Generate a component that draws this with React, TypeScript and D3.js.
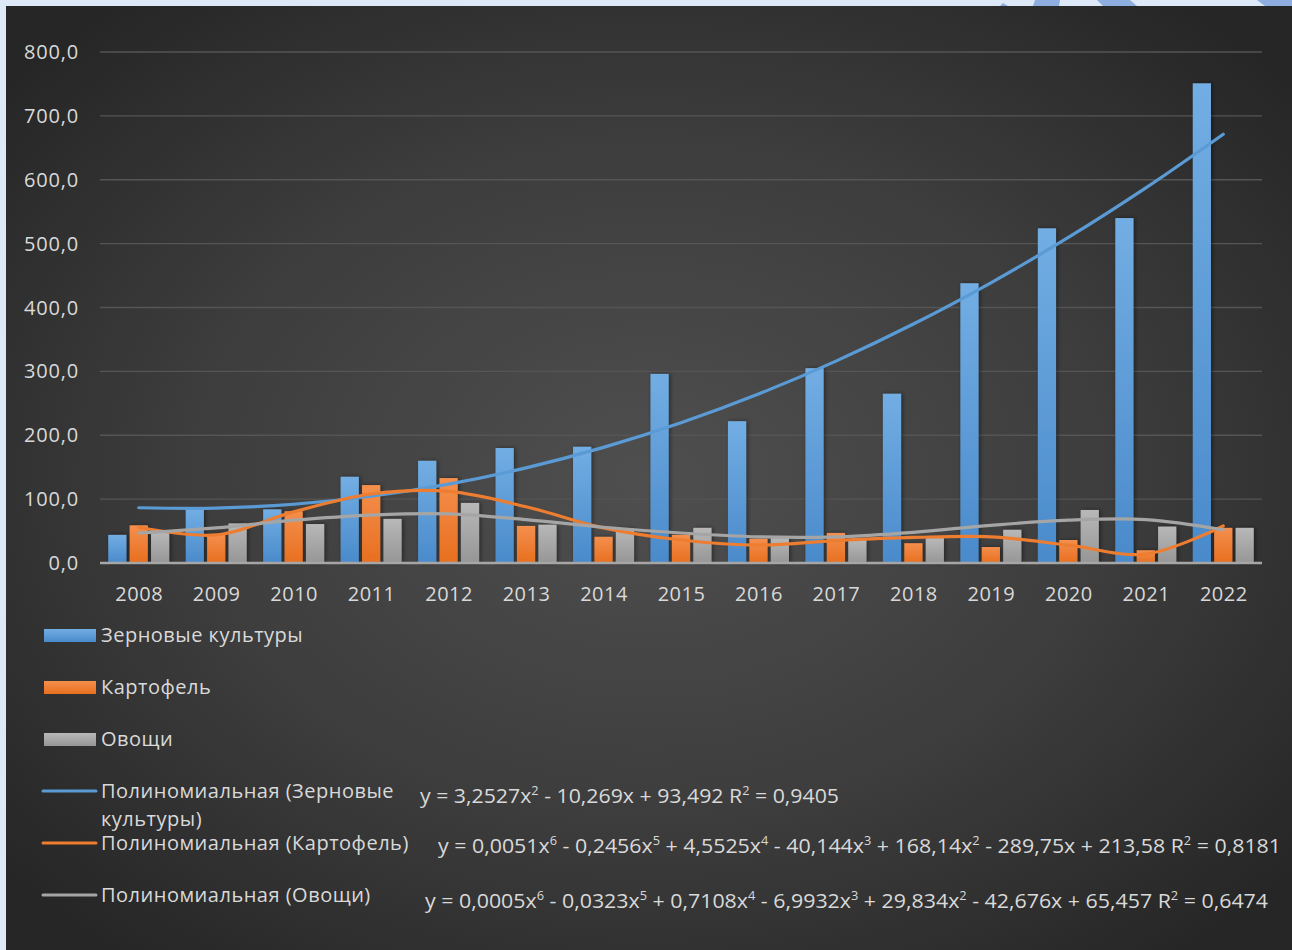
import React from "react";
import * as d3 from "d3";

const years = ["2008","2009","2010","2011","2012","2013","2014","2015","2016","2017","2018","2019","2020","2021","2022"];
const grain = [44, 85, 84, 135, 160, 180, 182, 296, 222, 305, 265, 438, 524, 540, 751];
const potato = [59, 45, 81, 122, 133, 58, 41, 44, 38, 47, 31, 25, 36, 20, 55];
const vegetables = [48, 62, 61, 69, 94, 60, 54, 55, 39, 36, 39, 52, 83, 57, 55];
const grainTrend = [86.5, 86.0, 92.0, 104.5, 123.5, 149.0, 181.0, 219.5, 264.5, 316.1, 374.1, 438.7, 509.7, 587.3, 671.3];
const potatoTrend = [56, 44, 80, 108, 112, 88, 55, 36, 28, 35, 40, 41, 28, 14, 58];
const vegTrend = [47, 55, 67, 75, 77, 68, 56, 47, 41, 41, 48, 59, 67, 68, 52];
const yTicks = [0, 100, 200, 300, 400, 500, 600, 700, 800];

const seriesNames = ["Зерновые культуры", "Картофель", "Овощи"];
const trendNames = ["Полиномиальная (Зерновые", "Полиномиальная (Картофель)", "Полиномиальная (Овощи)"];
const equations = [
  [["y = 3,2527x", ""], ["2", "sup"], [" - 10,269x + 93,492 R", ""], ["2", "sup"], [" = 0,9405", ""]],
  [["y = 0,0051x", ""], ["6", "sup"], [" - 0,2456x", ""], ["5", "sup"], [" + 4,5525x", ""], ["4", "sup"], [" - 40,144x", ""], ["3", "sup"], [" + 168,14x", ""], ["2", "sup"], [" - 289,75x + 213,58 R", ""], ["2", "sup"], [" = 0,8181", ""]],
  [["y = 0,0005x", ""], ["6", "sup"], [" - 0,0323x", ""], ["5", "sup"], [" + 0,7108x", ""], ["4", "sup"], [" - 6,9932x", ""], ["3", "sup"], [" + 29,834x", ""], ["2", "sup"], [" - 42,676x + 65,457 R", ""], ["2", "sup"], [" = 0,6474", ""]],
];

const W = 1292, H = 950;
const colors = ["#5b9bd5", "#ed7d31", "#a5a5a5"];
const lightColors = ["#72aee3", "#f48f4d", "#b8b8b8"];
const darkColors = ["#4a8acb", "#e86f1f", "#969696"];
const FONT = "'Open Sans', 'Noto Sans', sans-serif";

export default function App() {
  const x = d3.scaleBand<string>().domain(years).range([100, 1262]);
  const xs = d3.scaleBand<string>().domain(["0", "1", "2"]).range([0, 61]).paddingInner(0.15);
  const y = d3.scaleLinear().domain([0, 800]).range([563, 52]);
  const data = [grain, potato, vegetables];
  const trends = [grainTrend, potatoTrend, vegTrend];
  const offset = (x.bandwidth() - 61) / 2;
  const line = d3.line<number>()
    .x((_, i) => (x(years[i]) as number) + x.bandwidth() / 2)
    .y((d) => y(d))
    .curve(d3.curveCatmullRom.alpha(0.5));
  const fmt = (v: number) => d3.format(".1f")(v).replace(".", ",");

  const eqPos = [
    { x: 420, y: 803, w: 419 },
    { x: 438, y: 853, w: 843 },
    { x: 425, y: 908, w: 843 },
  ];

  return (
    <svg width={W} height={H} style={{ position: "absolute", left: 0, top: 0 }} fontFamily={FONT}>
      <defs>
        <radialGradient id="bg" cx="0.5" cy="0.5" r="0.65" fx="0.5" fy="0.5">
          <stop offset="0" stopColor="#4f4f4f" />
          <stop offset="0.55" stopColor="#3d3d3d" />
          <stop offset="1" stopColor="#262626" />
        </radialGradient>
        {colors.map((c, i) => (
          <linearGradient key={i} id={`bar${i}`} x1="0" y1="0" x2="0" y2="1">
            <stop offset="0" stopColor={lightColors[i]} />
            <stop offset="1" stopColor={darkColors[i]} />
          </linearGradient>
        ))}
        <filter id="shadow" x="-30%" y="-10%" width="160%" height="130%">
          <feDropShadow dx="1.5" dy="0" stdDeviation="2" floodColor="#000" floodOpacity="0.45" />
        </filter>
      </defs>
      <rect x={0} y={0} width={W} height={H} fill="#dde9f6" />
      <polygon points="1000,6 1003,3 1008,6" fill="#8eaee0" />
      <polygon points="1035,0 1060,0 1059,6 1033,6" fill="#8eaee0" />
      <polygon points="1097,0 1130,0 1137,6 1103,6" fill="#8eaee0" />
      <polygon points="1257,0 1292,0 1292,6 1265,6" fill="#8eaee0" />
      <rect x={6} y={6} width={W - 6} height={H - 6} fill="url(#bg)" />

      {yTicks.map((t) => (
        <g key={t}>
          {t > 0 && <line x1={100} x2={1262} y1={y(t)} y2={y(t)} stroke="#555555" strokeWidth={1.3} />}
          <text x={79} y={y(t) + 7} textAnchor="end" fontSize={20} letterSpacing={0.8} fill="#d9d9d9">{fmt(t)}</text>
        </g>
      ))}

      {data.map((series, si) => (
        <g key={si} filter="url(#shadow)">
          {series.map((v, i) => (
            <rect key={i}
              x={(x(years[i]) as number) + offset + (xs(String(si)) as number)}
              y={y(v)}
              width={xs.bandwidth()}
              height={y(0) - y(v)}
              fill={`url(#bar${si})`} />
          ))}
        </g>
      ))}

      <line x1={100} x2={1262} y1={y(0)} y2={y(0)} stroke="#a6a6a6" strokeWidth={2.5} />

      {trends.map((t, i) => (
        <path key={i} d={line(t) as string} fill="none" stroke={colors[i]} strokeWidth={3.2} strokeLinecap="round" />
      ))}

      {years.map((yr) => (
        <text key={yr} x={(x(yr) as number) + x.bandwidth() / 2 + 0.5} y={601} textAnchor="middle" fontSize={20} letterSpacing={0.5} fill="#d9d9d9">{yr}</text>
      ))}

      {seriesNames.map((n, i) => (
        <g key={n}>
          <rect x={44} y={629 + i * 52} width={52} height={13} fill={`url(#bar${i})`} />
          <text x={101} y={642 + i * 52} fontSize={20} letterSpacing={0.5} fill="#d9d9d9">{n}</text>
        </g>
      ))}
      {trendNames.map((n, i) => {
        const ly = [791, 843, 895][i];
        return (
          <g key={n}>
            <line x1={43} x2={96} y1={ly} y2={ly} stroke={colors[i]} strokeWidth={3} strokeLinecap="round" />
            <text x={101} y={ly + 7} fontSize={20} letterSpacing={0.5} fill="#d9d9d9">{n}</text>
          </g>
        );
      })}
      <text x={101} y={826} fontSize={20} letterSpacing={0.5} fill="#d9d9d9">культуры)</text>

      {equations.map((eq, i) => (
        <text key={i} x={eqPos[i].x} y={eqPos[i].y} fontSize={20} fill="#d9d9d9"
          textLength={eqPos[i].w} lengthAdjust="spacingAndGlyphs">
          {eq.map((p, j) => p[1] === "sup"
            ? <tspan key={j} fontSize={12} dy={-8}>{p[0]}</tspan>
            : <tspan key={j} dy={j > 0 && eq[j - 1][1] === "sup" ? 8 : 0}>{p[0]}</tspan>)}
        </text>
      ))}
    </svg>
  );
}
